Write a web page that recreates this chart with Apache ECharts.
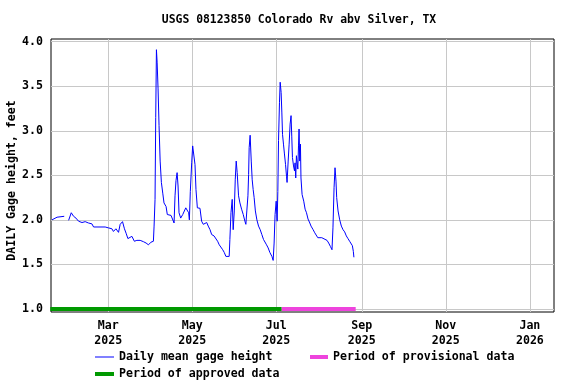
<!DOCTYPE html>
<html><head><meta charset="utf-8">
<script src="https://cdn.jsdelivr.net/npm/echarts@6/dist/echarts.min.js"></script>
<style>html,body{margin:0;padding:0;background:#fff}#c{width:576px;height:384px}</style>
</head><body><div id="c"></div>
<script>
const titleText = 'USGS 08123850 Colorado Rv abv Silver, TX';
const yAxisName = 'DAILY Gage height, feet';
const baseDate = '2025-01-18';
// day offsets from baseDate and daily mean gage height (feet)
const dayOffsets = [1.2,2.4,4.9,10.1,11.7,13.3,15.2,16.9,18.6,20.5,23.0,25.3,27.7,30.2,31.4,39.8,42.2,44.7,45.8,47.6,49.5,50.7,52.4,53.8,55.0,56.3,57.4,59.2,61.0,62.8,65.2,67.6,69.5,71.2,73.1,74.8,75.3,76.0,76.5,77.0,77.5,78.2,78.9,79.7,80.6,81.6,82.5,84.0,84.9,86.2,87.6,88.8,89.8,90.5,91.2,92.0,92.7,93.4,94.6,96.1,97.2,98.3,99.4,100.4,100.9,101.6,102.6,103.3,104.1,105.0,105.7,106.7,108.6,109.8,111.0,112.2,113.5,114.6,115.9,117.1,118.8,120.2,121.4,122.6,123.8,125.1,126.2,127.4,128.7,129.8,130.3,131.1,132.0,132.7,133.5,134.2,134.9,135.6,136.6,137.6,138.8,140.0,141.2,141.9,142.6,143.4,143.9,144.3,145.0,145.8,146.5,147.2,147.9,148.8,149.9,151.1,152.3,153.5,154.7,155.9,156.9,158.1,159.3,160.8,161.7,162.4,163.1,163.9,164.6,165.1,165.6,166.3,166.8,167.5,168.0,168.5,169.2,169.9,170.7,171.4,171.8,172.6,173.3,174.0,174.7,175.2,175.7,176.5,177.2,177.6,178.1,178.6,179.1,179.6,180.1,180.5,181.0,181.5,181.9,182.7,183.9,184.9,185.9,187.0,188.3,189.2,190.7,191.9,193.1,194.1,195.5,197.0,198.4,200.8,202.0,203.3,204.4,205.1,205.9,206.6,207.3,207.8,208.8,210.0,211.2,212.4,213.6,214.8,216.0,217.2,218.5,219.2,219.9,220.3];
const gageHeight = [2.00,2.02,2.03,2.04,null,1.995,2.08,2.04,2.02,1.985,1.97,1.98,1.965,1.955,1.92,1.92,1.91,1.90,1.87,1.90,1.86,1.95,1.98,1.90,1.85,1.79,1.78,1.815,1.76,1.77,1.77,1.755,1.74,1.72,1.75,1.76,1.93,2.23,3.15,3.91,3.77,3.47,3.06,2.66,2.42,2.30,2.19,2.15,2.06,2.07,2.05,2.03,1.965,2.27,2.44,2.53,2.38,2.08,2.02,2.06,2.06,2.135,2.12,2.08,2.00,2.32,2.64,2.83,2.85,2.62,2.34,2.135,2.13,1.985,1.95,1.97,1.97,1.93,1.89,1.835,1.82,1.80,1.76,1.72,1.71,1.665,1.635,1.59,1.61,1.59,1.78,2.08,2.23,1.89,2.10,2.45,2.66,2.53,2.27,2.19,2.12,2.06,1.985,1.95,2.10,2.27,2.51,2.81,2.95,2.66,2.45,2.34,2.25,2.10,2.00,1.93,1.89,1.835,1.78,1.77,1.72,1.685,1.635,1.59,1.545,1.74,2.06,2.21,1.985,2.32,2.89,3.32,3.545,3.43,3.21,2.96,2.85,2.74,2.62,2.49,2.42,2.66,2.85,3.075,3.17,2.94,2.70,2.605,2.55,2.64,2.47,2.72,2.74,2.57,2.83,3.02,2.66,2.85,2.47,2.285,2.21,2.12,2.08,2.01,1.965,1.93,1.89,1.855,1.835,1.80,1.815,1.80,1.78,1.77,1.74,1.70,1.665,1.91,2.36,2.585,2.435,2.25,2.10,2.00,1.93,1.89,1.865,1.82,1.79,1.76,1.74,1.71,1.645,1.58];
const approvedPeriod = [0.0, 167.8];
const provisionalPeriod = [167.8, 221.6];
const periodLevel = 1.0;
const axisDayRange = [0.5, 365.5];
const tickDates = ['2025-03-01','2025-05-01','2025-07-01','2025-09-01','2025-11-01','2026-01-01'];
const tickLabels = ['Mar\n2025','May\n2025','Jul\n2025','Sep\n2025','Nov\n2025','Jan\n2026'];
const yTicks = [1.0,1.5,2.0,2.5,3.0,3.5,4.0];
const yRange = [0.966, 4.03];
const seriesNames = ['Daily mean gage height','Period of provisional data','Period of approved data'];

const DAY = 86400000;
const t0 = Date.parse(baseDate + 'T00:00:00Z');
const toT = d => t0 + d * DAY;
const tickTimes = tickDates.map(s => Date.parse(s + 'T00:00:00Z'));
const lineData = dayOffsets.map((d, i) => [toT(d), gageHeight[i]]);
const FONT = 'DejaVu Sans Mono';
const txt = (size) => ({fontFamily: FONT, fontWeight: 'bold', fontSize: size, color: '#000'});

const chart = echarts.init(document.getElementById('c'), null, {renderer: 'canvas'});
chart.setOption({
  animation: false,
  backgroundColor: '#fff',
  title: {text: titleText, left: 299, textAlign: 'center', top: 15, padding: 0, textStyle: txt(11.4)},
  grid: {left: 51, right: 22, top: 39, bottom: 72, containLabel: false, outerBoundsMode: 'none',
         show: true, borderColor: '#000', borderWidth: 1, backgroundColor: 'transparent'},
  legend: [
    {data: [seriesNames[0]], left: 95, top: 351, padding: 0, itemWidth: 19, itemHeight: 1, icon: 'rect', textStyle: txt(11.6), selectedMode: false},
    {data: [seriesNames[1]], left: 310, top: 351, padding: 0, itemWidth: 18, itemHeight: 4, icon: 'rect', textStyle: txt(11.6), selectedMode: false},
    {data: [seriesNames[2]], left: 95, top: 368, padding: 0, itemWidth: 19, itemHeight: 4, icon: 'rect', textStyle: txt(11.6), selectedMode: false}
  ],
  xAxis: {
    type: 'value', min: toT(axisDayRange[0]), max: toT(axisDayRange[1]),
    axisLine: {show: false},
    axisTick: {show: false, customValues: tickTimes},
    axisLabel: {customValues: tickTimes, margin: 7, lineHeight: 14.5, ...txt(11.6),
      formatter: (v) => { const i = tickTimes.indexOf(v); return i >= 0 ? tickLabels[i] : ''; }},
    splitLine: {show: true, lineStyle: {color: '#c8c8c8', width: 1}}
  },
  yAxis: {
    type: 'value', min: yRange[0], max: yRange[1],
    name: yAxisName, nameLocation: 'middle', nameGap: 33, nameRotate: 90, nameMoveOverlap: false,
    nameTextStyle: {...txt(11.6), padding: [0, 10, 0, 0]},
    axisLine: {show: false},
    axisTick: {show: false, customValues: yTicks},
    axisLabel: {customValues: yTicks, margin: 8, ...txt(11.6), formatter: v => Number(v).toFixed(1)},
    splitLine: {show: true, lineStyle: {color: '#c8c8c8', width: 1}}
  },
  series: [
    {name: seriesNames[0], type: 'line', data: lineData, showSymbol: false, symbol: 'none',
     connectNulls: false, color: '#0000ff', itemStyle: {color: '#0000ff'}, lineStyle: {color: '#0000ff', width: 1}, z: 3},
    {name: seriesNames[1], type: 'line', data: [[toT(provisionalPeriod[0]), periodLevel], [toT(provisionalPeriod[1]), periodLevel]],
     symbol: 'none', color: '#ee44dd', itemStyle: {color: '#ee44dd'}, lineStyle: {color: '#ee44dd', width: 4}, z: 4},
    {name: seriesNames[2], type: 'line', data: [[toT(approvedPeriod[0]), periodLevel], [toT(approvedPeriod[1]), periodLevel]],
     symbol: 'none', color: '#009900', itemStyle: {color: '#009900'}, lineStyle: {color: '#009900', width: 4}, z: 4}
  ]
});
</script></body></html>
